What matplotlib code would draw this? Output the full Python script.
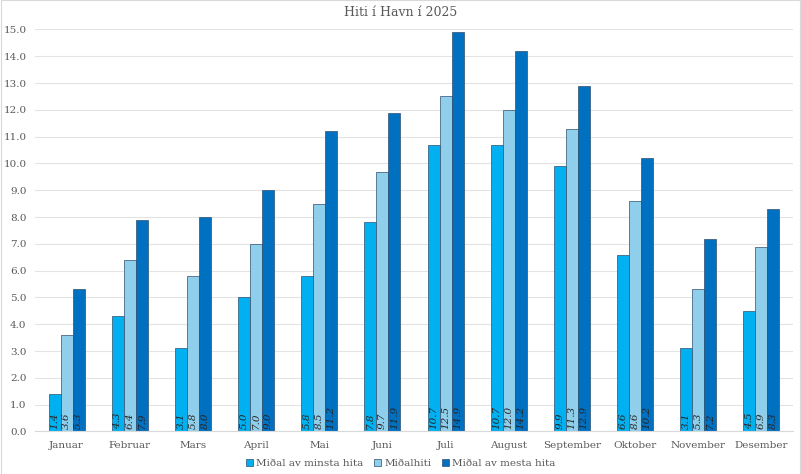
#!/usr/bin/env python3
"""Hiti í Havn í 2025 - grouped bar chart"""

import matplotlib
matplotlib.use("Agg")
import matplotlib.pyplot as plt
import numpy as np

months = ["Januar", "Februar", "Mars", "April", "Mai", "Juni", "Juli",
          "August", "September", "Oktober", "November", "Desember"]
min_temp = [1.4, 4.3, 3.1, 5.0, 5.8, 7.8, 10.7, 10.7, 9.9, 6.6, 3.1, 4.5]
mean_temp = [3.6, 6.4, 5.8, 7.0, 8.5, 9.7, 12.5, 12.0, 11.3, 8.6, 5.3, 6.9]
max_temp = [5.3, 7.9, 8.0, 9.0, 11.2, 11.9, 14.9, 14.2, 12.9, 10.2, 7.2, 8.3]
series_names = ["Miðal av minsta hita", "Miðalhiti", "Miðal av mesta hita"]

colors = ["#00B0F0", "#8FCFEB", "#0070C0"]
text_grey = "#595959"

plt.rcParams["font.family"] = ["DejaVu Serif", "DejaVu Sans"]

fig = plt.figure(figsize=(8.01, 4.74), dpi=100)
ax = fig.add_axes([0.0437, 0.0897, 0.9463, 0.8481])

x = np.arange(len(months))
w = 0.19
for i, (vals, name) in enumerate(zip([min_temp, mean_temp, max_temp], series_names)):
    bars = ax.bar(x + (i - 1) * w, vals, width=w, color=colors[i],
                  edgecolor="#2F4F6F", linewidth=0.5, label=name, zorder=2)
    for b, v in zip(bars, vals):
        ax.text(b.get_x() + b.get_width() / 2, 0.1, f"{v:.1f}",
                rotation=90, ha="center", va="bottom", fontsize=7.5,
                style="italic", color="#262626", zorder=3)

ax.set_xlim(-0.5, len(months) - 0.5)
ax.set_ylim(0, 15)
ax.set_yticks(np.arange(0, 15.1, 1))
ax.yaxis.set_major_formatter(matplotlib.ticker.FormatStrFormatter("%.1f"))
ax.set_xticks(x)
ax.set_xticklabels(months)
ax.tick_params(length=0, labelsize=7.5, colors=text_grey, pad=7)
ax.tick_params(axis="y", pad=6)
ax.grid(axis="y", color="#E3E3E3", linewidth=0.8, zorder=0)
for s in ["top", "right", "left"]:
    ax.spines[s].set_visible(False)
ax.spines["bottom"].set_color("#D9D9D9")

fig.suptitle("Hiti í Havn í 2025", x=0.5, y=0.987, va="top", fontsize=9, color=text_grey)

fig.legend(loc="lower center", bbox_to_anchor=(0.5, -0.008), ncol=3, frameon=False,
           fontsize=7.5, handlelength=0.7, handleheight=0.7, handletextpad=0.3,
           columnspacing=1.0, labelcolor=text_grey)

fig.patches.append(plt.Rectangle((0.001, 0.001), 0.998, 0.998, transform=fig.transFigure,
                                 fill=False, edgecolor="#D9D9D9", linewidth=0.8))

fig.savefig("out.png", dpi=100, facecolor="white")
